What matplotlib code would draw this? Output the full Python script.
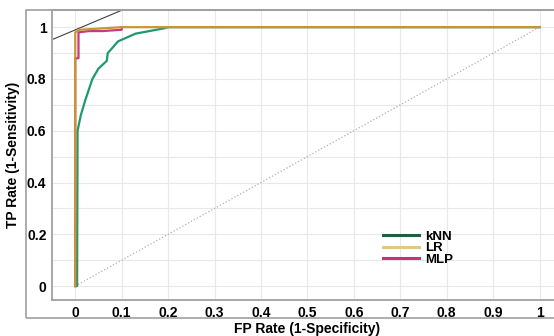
import numpy as np
import matplotlib.pyplot as plt
from matplotlib.lines import Line2D
from matplotlib.patches import Rectangle

# -----------------------------
# DATA
# -----------------------------
knn_fpr = [0, 0.004, 0.005, 0.012, 0.022, 0.037, 0.05, 0.062, 0.068, 0.07, 0.08, 0.092, 0.13, 0.19, 0.2, 1.0]
knn_tpr = [0, 0.0, 0.60, 0.66, 0.72, 0.80, 0.84, 0.86, 0.87, 0.90, 0.92, 0.945, 0.975, 0.995, 1.0, 1.0]

lr_fpr = [0, 0, 0.01, 0.1, 1.0]
lr_tpr = [0, 0.98, 0.99, 1.0, 1.0]

mlp_fpr = [0, 0, 0.007, 0.007, 0.03, 0.06, 0.1, 0.1]
mlp_tpr = [0, 0.88, 0.88, 0.98, 0.985, 0.985, 0.99, 1.0]

ref_x = [0, 1]
ref_y = [0, 1]

# thin black tangent-like stroke in the top-left corner
corner_x = [-0.047, 0.101]
corner_y = [0.954, 1.066]

yticks = np.round(np.arange(0, 1.01, 0.2), 1)
xtick_labels = ['0', '0.1', '0.2', '0.3', '0.4', '0.5', '0.6', '0.7', '0.8', '0.9', '1']
ytick_labels = ['0', '0.2', '0.4', '0.6', '0.8', '1']

# -----------------------------
# PLOT
# -----------------------------
plt.rcParams['font.family'] = ['Liberation Sans', 'DejaVu Sans']

fig = plt.figure(figsize=(5.54, 3.36), dpi=100)
ax = fig.add_axes([0.0939, 0.107, 0.922, 0.863])

# outer frame around the whole panel
fig.patches.append(Rectangle((0.047, 0.054), 1.2, 0.917, transform=fig.transFigure,
                             fill=False, edgecolor='#a0a0a0', linewidth=1.2))

ax.set_xlim(-0.05, 1.05)
ax.set_ylim(-0.054, 1.066)

ax.set_xticks(np.arange(0, 1.01, 0.1))
ax.set_yticks(np.arange(0, 1.01, 0.1), minor=True)
ax.set_yticks(yticks)
ax.set_xticklabels(xtick_labels, fontweight='bold', fontsize=10)
ax.set_yticklabels(ytick_labels, fontweight='bold', fontsize=10)
ax.tick_params(axis='both', which='both', length=0, pad=4)
ax.grid(True, which='both', color='#e8e8e8', linewidth=0.8)
ax.set_axisbelow(True)

for s in ax.spines.values():
    s.set_color('#a0a0a0')
    s.set_linewidth(1.3)

ax.plot(ref_x, ref_y, linestyle=':', color='#b0b0b0', linewidth=0.9)
ax.plot(corner_x, corner_y, color='#404040', linewidth=0.8, clip_on=False)

ax.plot(knn_fpr, knn_tpr, color='#1e9a6c', linewidth=1.6)
ax.plot(mlp_fpr, mlp_tpr, color='#c63a84', linewidth=1.6)
ax.plot(lr_fpr, lr_tpr, color='#c99632', linewidth=1.6)

ax.set_xlabel('FP Rate (1-Specificity)', fontweight='bold', fontsize=10, labelpad=2)
ax.set_ylabel('TP Rate (1-Sensitivity)', fontweight='bold', fontsize=10, labelpad=5)

handles = [Line2D([], [], color='#1f5e3e', linewidth=2.2),
           Line2D([], [], color='#e6c684', linewidth=2.2),
           Line2D([], [], color='#c8307a', linewidth=2.2)]
leg = ax.legend(handles, ['kNN', 'LR', 'MLP'], loc='upper left',
                bbox_to_anchor=(0.635, 0.262), frameon=False,
                prop={'weight': 'bold', 'size': 9.5}, handlelength=2.7,
                handletextpad=0.5, labelspacing=-0.05, borderpad=0)

fig.savefig('out.png', dpi=100)
